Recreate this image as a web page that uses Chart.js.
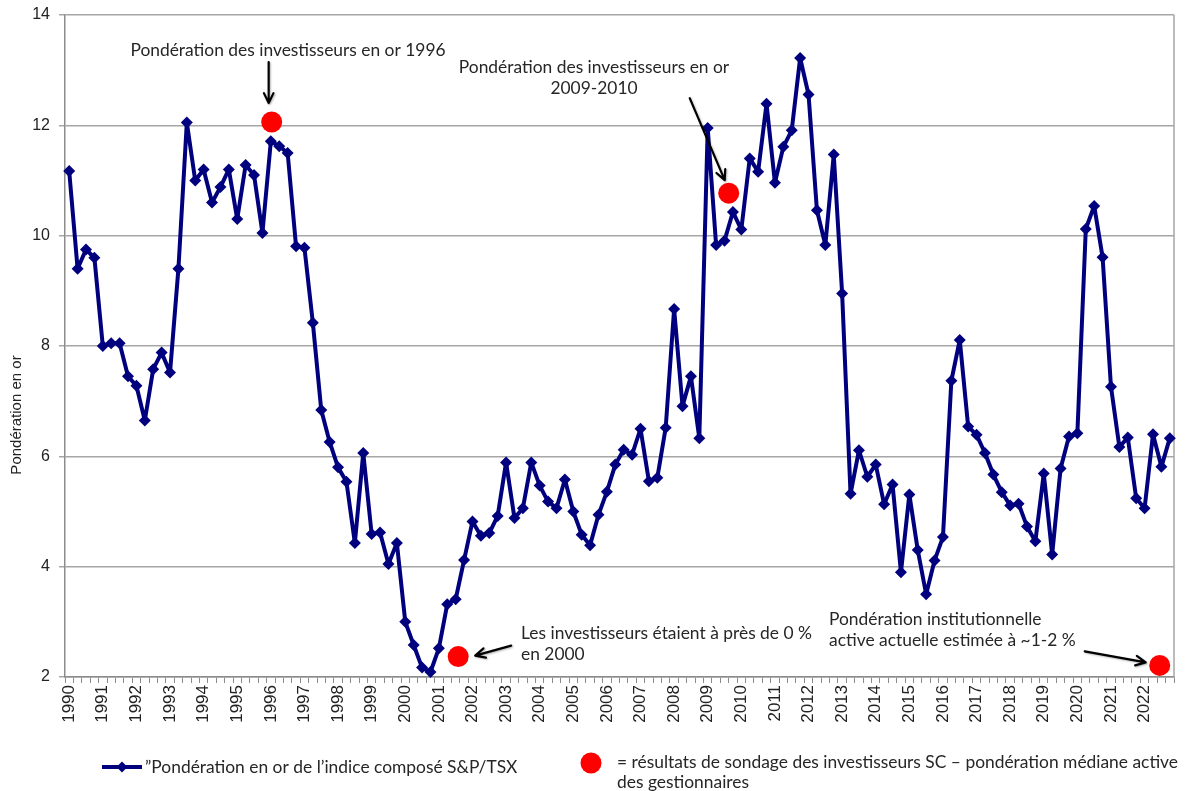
<!DOCTYPE html>
<html>
<head>
<meta charset="utf-8">
<script src="https://cdn.jsdelivr.net/npm/chart.js@4.4.1/dist/chart.umd.min.js"></script>
<style>
  html, body { margin: 0; padding: 0; background: #fff; }
  #wrap { width: 1186px; height: 791px; position: relative; }
</style>
</head>
<body>
<div id="wrap"><canvas id="goldChart"></canvas></div>
<script>
// years shown on the axis, one category per quarter
const years = [1990, 1991, 1992, 1993, 1994, 1995, 1996, 1997, 1998, 1999, 2000,
  2001, 2002, 2003, 2004, 2005, 2006, 2007, 2008, 2009, 2010, 2011,
  2012, 2013, 2014, 2015, 2016, 2017, 2018, 2019, 2020, 2021, 2022];
const quarters = ['T1', 'T2', 'T3', 'T4'];

// gold weight of the S&P/TSX composite, quarterly (%)
const goldWeight = [
  11.17, 9.40, 9.75, 9.60,   8.00, 8.05, 8.05, 7.45,   7.28, 6.65, 7.58, 7.88,
  7.52, 9.40, 12.05, 11.00,  11.20, 10.60, 10.88, 11.20, 10.30, 11.28, 11.10, 10.05,
  11.71, 11.62, 11.50, 9.81, 9.78, 8.42, 6.84, 6.26,   5.80, 5.54, 4.43, 6.06,
  4.59, 4.62, 4.05, 4.43,    3.00, 2.58, 2.17, 2.09,   2.52, 3.32, 3.41, 4.12,
  4.82, 4.56, 4.61, 4.92,    5.89, 4.88, 5.06, 5.89,   5.47, 5.18, 5.06, 5.58,
  5.00, 4.58, 4.39, 4.94,    5.36, 5.85, 6.12, 6.03,   6.50, 5.55, 5.61, 6.52,
  8.67, 6.91, 7.45, 6.33,    11.95, 9.83, 9.91, 10.43, 10.11, 11.40, 11.16, 12.39,
  10.96, 11.61, 11.91, 13.22, 12.56, 10.46, 9.83, 11.47, 8.95, 5.32, 6.11, 5.63,
  5.85, 5.13, 5.49, 3.90,    5.31, 4.30, 3.50, 4.11,   4.54, 7.37, 8.11, 6.54,
  6.39, 6.06, 5.67, 5.35,    5.11, 5.14, 4.73, 4.46,   5.69, 4.22, 5.78, 6.36,
  6.42, 10.12, 10.54, 9.61,  7.26, 6.17, 6.34, 5.24,   5.06, 6.40, 5.81, 6.33
];

// survey results: position in quarters from 1990 T1, median active weight (%)
const surveyQuarter = [24.1, 46.3, 78.5, 129.8];
const surveyWeight = [12.06, 2.37, 10.77, 2.21];

const yTicks = [2, 4, 6, 8, 10, 12, 14];

const categories = years.flatMap(y => quarters.map(q => y + ' ' + q));
const navy = '#00007f';
const red = '#ff0000';
const textFont = '17.4px Lato';
const textColor = '#262626';

function arrow(ctx, x1, y1, x2, y2) {
  const a = Math.atan2(y2 - y1, x2 - x1);
  const h = 11;
  ctx.save();
  ctx.strokeStyle = '#000';
  ctx.lineWidth = 2.2;
  ctx.lineCap = 'round';
  ctx.lineJoin = 'round';
  ctx.shadowColor = 'rgba(0,0,0,0.3)';
  ctx.shadowBlur = 2;
  ctx.shadowOffsetX = 1;
  ctx.shadowOffsetY = 1;
  ctx.beginPath();
  ctx.moveTo(x1, y1);
  ctx.lineTo(x2, y2);
  ctx.moveTo(x2 - h * Math.cos(a - 0.45), y2 - h * Math.sin(a - 0.45));
  ctx.lineTo(x2, y2);
  ctx.lineTo(x2 - h * Math.cos(a + 0.45), y2 - h * Math.sin(a + 0.45));
  ctx.stroke();
  ctx.restore();
}

function diamond(ctx, x, y, r) {
  ctx.beginPath();
  ctx.moveTo(x, y - r);
  ctx.lineTo(x + r, y);
  ctx.lineTo(x, y + r);
  ctx.lineTo(x - r, y);
  ctx.closePath();
  ctx.fill();
}

const decor = {
  id: 'decor',
  beforeDatasetsDraw(chart) {
    const { ctx, chartArea } = chart;
    ctx.save();
    ctx.strokeStyle = '#a6a6a6';
    ctx.lineWidth = 1.5;
    ctx.beginPath();
    ctx.moveTo(chartArea.right, chartArea.top);
    ctx.lineTo(chartArea.right, chartArea.bottom);
    ctx.stroke();
    ctx.restore();
  },
  afterDraw(chart) {
    const ctx = chart.ctx;
    const dots = chart.getDatasetMeta(0).data;

    // y axis title
    ctx.save();
    ctx.translate(17, 415);
    ctx.rotate(-Math.PI / 2);
    ctx.font = '15px "Liberation Sans"';
    ctx.fillStyle = '#222';
    ctx.textAlign = 'center';
    ctx.textBaseline = 'middle';
    ctx.fillText('Pondération en or', 0, 0);
    ctx.restore();

    // annotations
    ctx.save();
    ctx.font = textFont;
    ctx.fillStyle = textColor;
    ctx.textBaseline = 'middle';
    ctx.textAlign = 'center';
    ctx.fillText('Pondération des investisseurs en or 1996', 288, 50);
    ctx.fillText('Pondération des investisseurs en or', 594, 67);
    ctx.fillText('2009-2010', 594, 88);
    ctx.textAlign = 'left';
    ctx.fillText('Les investisseurs étaient à près de 0 %', 521, 633);
    ctx.fillText('en 2000', 521, 654);
    ctx.fillText('Pondération institutionnelle', 829, 619);
    ctx.fillText('active actuelle estimée à ~1-2 %', 829, 640);
    ctx.restore();

    // dots are ordered by time: 1996, 2000, 2009-2010, now
    const d1996 = dots[0], d2000 = dots[1], d2009 = dots[2], dNow = dots[3];
    arrow(ctx, d1996.x - 3, d1996.y - 60, d1996.x - 3, d1996.y - 19);
    arrow(ctx, d2000.x + 53, d2000.y - 11, d2000.x + 17, d2000.y - 1);
    arrow(ctx, d2009.x - 39, d2009.y - 95, d2009.x - 4, d2009.y - 13);
    arrow(ctx, dNow.x - 75, dNow.y - 14, dNow.x - 14, dNow.y - 3);

    // legend
    ctx.save();
    ctx.strokeStyle = navy;
    ctx.fillStyle = navy;
    ctx.lineWidth = 4;
    ctx.beginPath();
    ctx.moveTo(102, 767);
    ctx.lineTo(142, 767);
    ctx.stroke();
    diamond(ctx, 122, 767, 5.5);
    ctx.fillStyle = red;
    ctx.beginPath();
    ctx.arc(591, 763, 10.5, 0, Math.PI * 2);
    ctx.fill();
    ctx.font = textFont;
    ctx.fillStyle = textColor;
    ctx.textBaseline = 'middle';
    ctx.textAlign = 'left';
    ctx.fillText('\u201DPondération en or de l\u2019indice composé S&P/TSX', 145, 767);
    ctx.fillText('= résultats de sondage des investisseurs SC \u2013 pondération médiane active', 617, 762);
    ctx.fillText('des gestionnaires', 617, 782);
    ctx.restore();
  }
};

const ctx = document.getElementById('goldChart').getContext('2d');
new Chart(ctx, {
  type: 'line',
  data: {
    labels: categories,
    datasets: [{
      type: 'scatter',
      label: 'Sondage des investisseurs SC',
      data: surveyQuarter.map((q, i) => ({ x: q, y: surveyWeight[i] })),
      xAxisID: 'xq',
      backgroundColor: red,
      borderColor: red,
      pointRadius: 10.5,
      pointHoverRadius: 10.5,
      borderWidth: 0,
      clip: false,
      order: 0
    }, {
      label: 'Pondération en or de l\u2019indice composé S&P/TSX',
      data: goldWeight,
      xAxisID: 'x',
      borderColor: navy,
      backgroundColor: navy,
      borderWidth: 4,
      borderJoinStyle: 'round',
      pointStyle: 'rectRot',
      pointRadius: 6,
      pointHoverRadius: 6,
      pointBorderWidth: 0,
      tension: 0,
      clip: false,
      order: 1
    }]
  },
  options: {
    responsive: true,
    maintainAspectRatio: false,
    animation: false,
    layout: { padding: { left: 0, top: 15, right: 12, bottom: 0 } },
    plugins: {
      legend: { display: false },
      tooltip: { enabled: false },
      title: { display: false }
    },
    scales: {
      x: {
        type: 'category',
        offset: true,
        grid: {
          offset: true,
          drawOnChartArea: false,
          drawTicks: true,
          tickLength: 6,
          color: '#8c8c8c',
          lineWidth: 1
        },
        border: { display: true, color: '#8c8c8c', width: 1.5 },
        ticks: {
          autoSkip: false,
          maxRotation: 90,
          minRotation: 90,
          padding: 2,
          color: '#222',
          font: { family: 'Liberation Sans', size: 17 },
          callback: (val, i) => (i % 4 === 0 ? String(years[i / 4]) : '')
        },
        afterFit(scale) {
          scale.height = 114;
          scale.paddingLeft = 0;
          scale.paddingRight = 0;
        }
      },
      xq: {
        type: 'linear',
        display: false,
        min: -0.5,
        max: goldWeight.length - 0.5
      },
      y: {
        min: 2,
        max: 14,
        afterBuildTicks(scale) { scale.ticks = yTicks.map(v => ({ value: v })); },
        grid: {
          color: '#a6a6a6',
          lineWidth: 1.5,
          tickLength: 6
        },
        border: { display: true, color: '#8c8c8c', width: 1.5 },
        ticks: {
          padding: 9,
          color: '#222',
          font: { family: 'Liberation Sans', size: 16 }
        },
        afterFit(scale) {
          scale.width = 65;
          scale.paddingTop = 0;
          scale.paddingBottom = 0;
        }
      }
    }
  },
  plugins: [decor]
});
</script>
</body>
</html>
